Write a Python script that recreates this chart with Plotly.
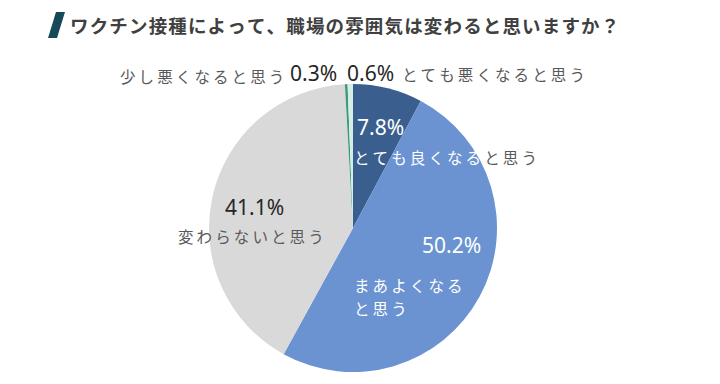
import plotly.graph_objects as go

title = "ワクチン接種によって、職場の雰囲気は変わると思いますか？"
categories = ["とても良くなると思う", "まあよくなると思う", "変わらないと思う", "少し悪くなると思う", "とても悪くなると思う"]
values = [7.8, 50.2, 41.1, 0.3, 0.6]
colors = ["#3a5f8f", "#6b93d1", "#d9d9d9", "#3d9b78", "#d4eee5"]

OFF = 8  # page body margin
W, H = 720 - OFF, 384 - OFF
cx, cy, r = 353, 228, 144

def px(x):
    return (x - OFF) / W

def py(y):
    return 1 - (y - OFF) / H

fig = go.Figure(go.Pie(
    labels=categories, values=values, sort=False, direction="clockwise", rotation=0,
    marker=dict(colors=colors, line=dict(width=0)),
    textinfo="none", hoverinfo="label+percent", showlegend=False,
    domain=dict(x=[px(cx - r), px(cx + r)], y=[py(cy + r), py(cy - r)]),
))

def sp(s, c="\u2009"):
    return c.join(s)

def ann(x, y, text, size, color, xanchor="center", family="Noto Sans CJK JP"):
    fig.add_annotation(x=px(x), y=py(y), xref="paper", yref="paper", text=text,
                       showarrow=False, xanchor=xanchor, yanchor="middle",
                       font=dict(size=size, color=color, family=family))

pct = [f"{v:.1f}%" for v in values]
lab_col = "#595959"
pct_font = "Noto Sans"

ann(380, 127, pct[0], 21, "white", family=pct_font)
ann(352, 157, "<span style='color:white'>" + sp("とても良くなる") + "</span>" + "\u2009" + sp("と思う"), 15.5, lab_col, xanchor="left")
ann(451, 245, pct[1], 21, "white", family=pct_font)
ann(352, 285, sp("まあよくなる"), 15.5, "white", xanchor="left")
ann(352, 308, sp("と思う"), 15.5, "white", xanchor="left")
ann(254, 207, pct[2], 21, "#262626", family=pct_font)
ann(251, 236, sp(categories[2]), 15.5, lab_col)
ann(313, 73, pct[3], 21, "#262626", family=pct_font)
ann(202, 76, sp(categories[3]), 15.5, lab_col)
ann(370, 73, pct[4], 21, "#262626", family=pct_font)
ann(494, 74, sp(categories[4]), 15.5, lab_col)

fig.add_shape(type="path", xref="paper", yref="paper",
              path=f"M {px(56)} {py(12)} L {px(65)} {py(12)} L {px(57)} {py(38)} L {px(48)} {py(38)} Z",
              fillcolor="#174a58", line=dict(width=0))
fig.add_annotation(x=px(68), y=py(25), xref="paper", yref="paper", text="<b>" + sp(title, "\u200a") + "</b>",
                   showarrow=False, xanchor="left", yanchor="middle",
                   font=dict(size=18.5, color="#404040", family="Noto Sans CJK JP"))

fig.update_layout(width=W, height=H, margin=dict(l=0, r=0, t=0, b=0),
                  paper_bgcolor="white", plot_bgcolor="white")
fig.write_html("out.html")
